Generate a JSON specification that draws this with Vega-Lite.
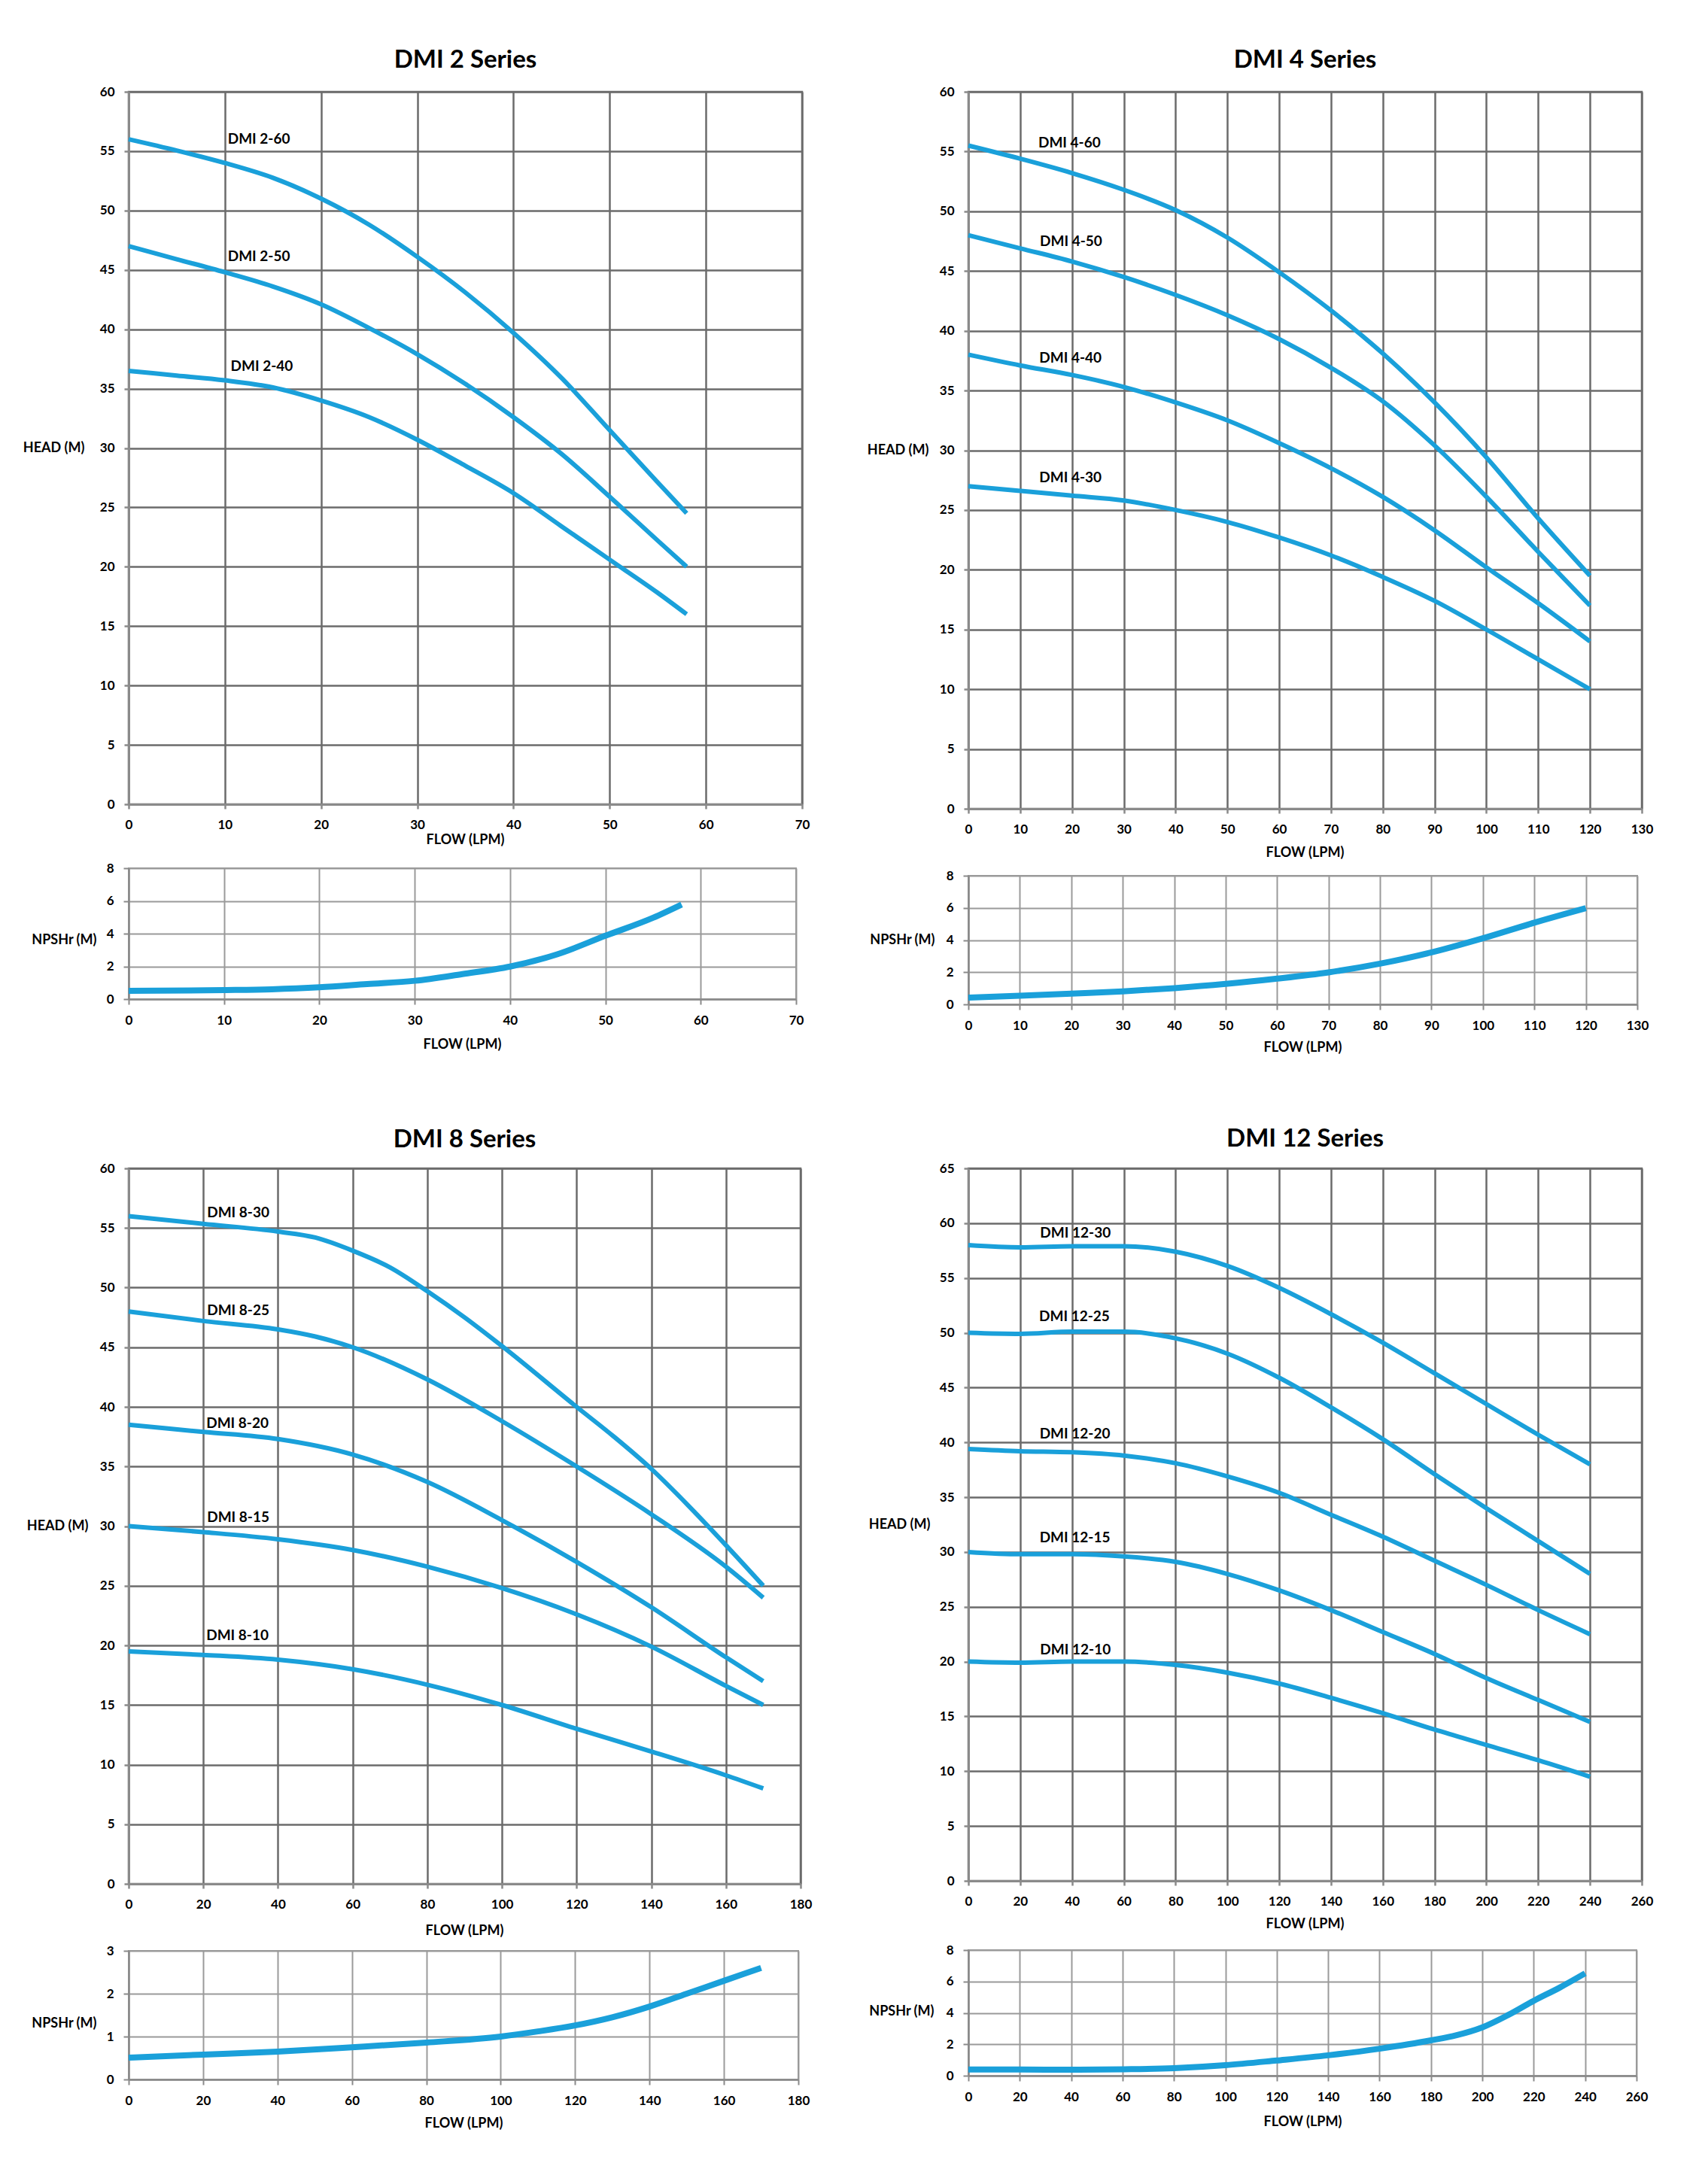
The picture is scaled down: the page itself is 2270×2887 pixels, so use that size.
{
"$schema": "https://vega.github.io/schema/vega-lite/v6.json",
"background": "white",
"padding": {"left": 29, "top": 62, "right": 0, "bottom": 0},
"autosize": {"type": "pad"},
"config": {
  "font": "Lato",
  "view": {"stroke": "#6b6b6b", "strokeWidth": 2.5},
  "axis": {"labelFont": "Lato", "labelFontWeight": "bold", "labelFontSize": 17, "labelColor": "#000",
    "titleFont": "Lato", "titleFontWeight": "bold", "titleFontSize": 18, "titleColor": "#000",
    "gridColor": "#6b6b6b", "gridWidth": 2.5, "tickColor": "#8a8a8a", "tickSize": 6, "tickWidth": 2.5,
    "domainColor": "#8a8a8a", "domainWidth": 3, "labelFlush": false, "labelOverlap": false},
  "axisX": {"labelPadding": 13},
  "axisY": {"labelPadding": 13},
  "title": {"font": "Lato", "fontSize": 33, "fontWeight": "bold", "color": "#000", "anchor": "middle", "baseline": "alphabetic", "frame": "group"},
  "line": {"color": "#1aa0da", "interpolate": "monotone"},
  "text": {"font": "Lato", "fontWeight": "bold", "fontSize": 19, "align": "left", "baseline": "middle", "color": "#000"}
},
"datasets": {
  "h2": [
    {"model":"DMI 2-60","flow":0,"head":56},{"model":"DMI 2-60","flow":5,"head":55.05},{"model":"DMI 2-60","flow":10,"head":54.0},{"model":"DMI 2-60","flow":15,"head":52.75},{"model":"DMI 2-60","flow":20,"head":51.0},{"model":"DMI 2-60","flow":25,"head":48.8},{"model":"DMI 2-60","flow":30,"head":46.1},{"model":"DMI 2-60","flow":35,"head":43.1},{"model":"DMI 2-60","flow":40,"head":39.7},{"model":"DMI 2-60","flow":45,"head":35.9},{"model":"DMI 2-60","flow":50,"head":31.5},{"model":"DMI 2-60","flow":55,"head":27.1},{"model":"DMI 2-60","flow":58,"head":24.5},
    {"model":"DMI 2-50","flow":0,"head":47},{"model":"DMI 2-50","flow":5,"head":45.9},{"model":"DMI 2-50","flow":10,"head":44.8},{"model":"DMI 2-50","flow":15,"head":43.6},{"model":"DMI 2-50","flow":20,"head":42.1},{"model":"DMI 2-50","flow":25,"head":40.1},{"model":"DMI 2-50","flow":30,"head":37.9},{"model":"DMI 2-50","flow":35,"head":35.4},{"model":"DMI 2-50","flow":40,"head":32.6},{"model":"DMI 2-50","flow":45,"head":29.5},{"model":"DMI 2-50","flow":50,"head":25.9},{"model":"DMI 2-50","flow":55,"head":22.2},{"model":"DMI 2-50","flow":58,"head":20.0},
    {"model":"DMI 2-40","flow":0,"head":36.5},{"model":"DMI 2-40","flow":5,"head":36.1},{"model":"DMI 2-40","flow":10,"head":35.7},{"model":"DMI 2-40","flow":15,"head":35.1},{"model":"DMI 2-40","flow":20,"head":34.0},{"model":"DMI 2-40","flow":25,"head":32.6},{"model":"DMI 2-40","flow":30,"head":30.7},{"model":"DMI 2-40","flow":35,"head":28.5},{"model":"DMI 2-40","flow":40,"head":26.2},{"model":"DMI 2-40","flow":45,"head":23.4},{"model":"DMI 2-40","flow":50,"head":20.6},{"model":"DMI 2-40","flow":55,"head":17.8},{"model":"DMI 2-40","flow":58,"head":16.0}
  ],
  "l2": [{"label":"DMI 2-60","flow":10.3,"head":56.0},{"label":"DMI 2-50","flow":10.3,"head":46.1},{"label":"DMI 2-40","flow":10.6,"head":36.9}],
  "n2": [{"flow":0,"npsh":0.5},{"flow":10,"npsh":0.55},{"flow":15,"npsh":0.6},{"flow":20,"npsh":0.72},{"flow":25,"npsh":0.92},{"flow":30,"npsh":1.12},{"flow":35,"npsh":1.53},{"flow":40,"npsh":1.99},{"flow":45,"npsh":2.75},{"flow":50,"npsh":3.87},{"flow":55,"npsh":4.97},{"flow":58,"npsh":5.78}],
  "h4": [
    {"model":"DMI 4-60","flow":0,"head":55.5},{"model":"DMI 4-60","flow":10,"head":54.4},{"model":"DMI 4-60","flow":20,"head":53.2},{"model":"DMI 4-60","flow":30,"head":51.8},{"model":"DMI 4-60","flow":40,"head":50.1},{"model":"DMI 4-60","flow":50,"head":47.8},{"model":"DMI 4-60","flow":60,"head":44.9},{"model":"DMI 4-60","flow":70,"head":41.7},{"model":"DMI 4-60","flow":80,"head":38.1},{"model":"DMI 4-60","flow":90,"head":34.0},{"model":"DMI 4-60","flow":100,"head":29.4},{"model":"DMI 4-60","flow":110,"head":24.3},{"model":"DMI 4-60","flow":120,"head":19.5},
    {"model":"DMI 4-50","flow":0,"head":48.0},{"model":"DMI 4-50","flow":10,"head":46.9},{"model":"DMI 4-50","flow":20,"head":45.8},{"model":"DMI 4-50","flow":30,"head":44.5},{"model":"DMI 4-50","flow":40,"head":43.0},{"model":"DMI 4-50","flow":50,"head":41.3},{"model":"DMI 4-50","flow":60,"head":39.3},{"model":"DMI 4-50","flow":70,"head":36.9},{"model":"DMI 4-50","flow":80,"head":34.1},{"model":"DMI 4-50","flow":90,"head":30.4},{"model":"DMI 4-50","flow":100,"head":26.1},{"model":"DMI 4-50","flow":110,"head":21.5},{"model":"DMI 4-50","flow":120,"head":17.0},
    {"model":"DMI 4-40","flow":0,"head":38.0},{"model":"DMI 4-40","flow":10,"head":37.1},{"model":"DMI 4-40","flow":20,"head":36.3},{"model":"DMI 4-40","flow":30,"head":35.3},{"model":"DMI 4-40","flow":40,"head":34.0},{"model":"DMI 4-40","flow":50,"head":32.5},{"model":"DMI 4-40","flow":60,"head":30.6},{"model":"DMI 4-40","flow":70,"head":28.5},{"model":"DMI 4-40","flow":80,"head":26.1},{"model":"DMI 4-40","flow":90,"head":23.3},{"model":"DMI 4-40","flow":100,"head":20.2},{"model":"DMI 4-40","flow":110,"head":17.2},{"model":"DMI 4-40","flow":120,"head":14.0},
    {"model":"DMI 4-30","flow":0,"head":27.0},{"model":"DMI 4-30","flow":10,"head":26.6},{"model":"DMI 4-30","flow":20,"head":26.2},{"model":"DMI 4-30","flow":30,"head":25.8},{"model":"DMI 4-30","flow":40,"head":25.0},{"model":"DMI 4-30","flow":50,"head":24.0},{"model":"DMI 4-30","flow":60,"head":22.7},{"model":"DMI 4-30","flow":70,"head":21.2},{"model":"DMI 4-30","flow":80,"head":19.4},{"model":"DMI 4-30","flow":90,"head":17.4},{"model":"DMI 4-30","flow":100,"head":15.0},{"model":"DMI 4-30","flow":110,"head":12.5},{"model":"DMI 4-30","flow":120,"head":10.0}
  ],
  "l4": [{"label":"DMI 4-60","flow":13.5,"head":55.7},{"label":"DMI 4-50","flow":13.8,"head":47.5},{"label":"DMI 4-40","flow":13.7,"head":37.7},{"label":"DMI 4-30","flow":13.7,"head":27.7}],
  "n4": [{"flow":0,"npsh":0.42},{"flow":10,"npsh":0.54},{"flow":20,"npsh":0.67},{"flow":30,"npsh":0.81},{"flow":40,"npsh":1.01},{"flow":50,"npsh":1.27},{"flow":60,"npsh":1.6},{"flow":70,"npsh":1.99},{"flow":80,"npsh":2.53},{"flow":90,"npsh":3.23},{"flow":100,"npsh":4.11},{"flow":110,"npsh":5.08},{"flow":120,"npsh":5.98}],
  "h8": [
    {"model":"DMI 8-30","flow":0,"head":56},{"model":"DMI 8-30","flow":20,"head":55.35},{"model":"DMI 8-30","flow":40,"head":54.7},{"model":"DMI 8-30","flow":50,"head":54.2},{"model":"DMI 8-30","flow":60,"head":53.1},{"model":"DMI 8-30","flow":70,"head":51.7},{"model":"DMI 8-30","flow":80,"head":49.7},{"model":"DMI 8-30","flow":90,"head":47.5},{"model":"DMI 8-30","flow":100,"head":45.1},{"model":"DMI 8-30","flow":120,"head":40.0},{"model":"DMI 8-30","flow":130,"head":37.5},{"model":"DMI 8-30","flow":140,"head":34.8},{"model":"DMI 8-30","flow":150,"head":31.7},{"model":"DMI 8-30","flow":160,"head":28.4},{"model":"DMI 8-30","flow":170,"head":25.0},
    {"model":"DMI 8-25","flow":0,"head":48},{"model":"DMI 8-25","flow":20,"head":47.2},{"model":"DMI 8-25","flow":40,"head":46.5},{"model":"DMI 8-25","flow":50,"head":45.9},{"model":"DMI 8-25","flow":60,"head":45.0},{"model":"DMI 8-25","flow":80,"head":42.3},{"model":"DMI 8-25","flow":100,"head":38.8},{"model":"DMI 8-25","flow":120,"head":35.0},{"model":"DMI 8-25","flow":140,"head":31.0},{"model":"DMI 8-25","flow":160,"head":26.6},{"model":"DMI 8-25","flow":170,"head":24.0},
    {"model":"DMI 8-20","flow":0,"head":38.5},{"model":"DMI 8-20","flow":20,"head":37.9},{"model":"DMI 8-20","flow":40,"head":37.3},{"model":"DMI 8-20","flow":60,"head":36.0},{"model":"DMI 8-20","flow":80,"head":33.7},{"model":"DMI 8-20","flow":100,"head":30.5},{"model":"DMI 8-20","flow":120,"head":27.0},{"model":"DMI 8-20","flow":140,"head":23.2},{"model":"DMI 8-20","flow":160,"head":19.0},{"model":"DMI 8-20","flow":170,"head":17.0},
    {"model":"DMI 8-15","flow":0,"head":30},{"model":"DMI 8-15","flow":20,"head":29.5},{"model":"DMI 8-15","flow":40,"head":28.9},{"model":"DMI 8-15","flow":60,"head":28.0},{"model":"DMI 8-15","flow":80,"head":26.6},{"model":"DMI 8-15","flow":100,"head":24.8},{"model":"DMI 8-15","flow":120,"head":22.6},{"model":"DMI 8-15","flow":140,"head":19.9},{"model":"DMI 8-15","flow":160,"head":16.6},{"model":"DMI 8-15","flow":170,"head":15.0},
    {"model":"DMI 8-10","flow":0,"head":19.5},{"model":"DMI 8-10","flow":20,"head":19.2},{"model":"DMI 8-10","flow":40,"head":18.8},{"model":"DMI 8-10","flow":60,"head":18.0},{"model":"DMI 8-10","flow":80,"head":16.7},{"model":"DMI 8-10","flow":100,"head":15.0},{"model":"DMI 8-10","flow":120,"head":13.0},{"model":"DMI 8-10","flow":140,"head":11.1},{"model":"DMI 8-10","flow":160,"head":9.1},{"model":"DMI 8-10","flow":170,"head":8.0}
  ],
  "l8": [{"label":"DMI 8-30","flow":21,"head":56.3},{"label":"DMI 8-25","flow":21,"head":48.1},{"label":"DMI 8-20","flow":20.8,"head":38.6},{"label":"DMI 8-15","flow":21,"head":30.7},{"label":"DMI 8-10","flow":20.8,"head":20.8}],
  "n8": [{"flow":0,"npsh":0.51},{"flow":20,"npsh":0.58},{"flow":40,"npsh":0.65},{"flow":60,"npsh":0.75},{"flow":80,"npsh":0.86},{"flow":100,"npsh":1.0},{"flow":110,"npsh":1.12},{"flow":120,"npsh":1.26},{"flow":130,"npsh":1.45},{"flow":140,"npsh":1.7},{"flow":150,"npsh":2.0},{"flow":160,"npsh":2.3},{"flow":170,"npsh":2.6}],
  "h12": [
    {"model":"DMI 12-30","flow":0,"head":58.0},{"model":"DMI 12-30","flow":20,"head":57.8},{"model":"DMI 12-30","flow":40,"head":57.9},{"model":"DMI 12-30","flow":60,"head":57.9},{"model":"DMI 12-30","flow":80,"head":57.4},{"model":"DMI 12-30","flow":100,"head":56.1},{"model":"DMI 12-30","flow":120,"head":54.1},{"model":"DMI 12-30","flow":140,"head":51.7},{"model":"DMI 12-30","flow":160,"head":49.1},{"model":"DMI 12-30","flow":180,"head":46.3},{"model":"DMI 12-30","flow":200,"head":43.5},{"model":"DMI 12-30","flow":220,"head":40.7},{"model":"DMI 12-30","flow":240,"head":38.0},
    {"model":"DMI 12-25","flow":0,"head":50.0},{"model":"DMI 12-25","flow":20,"head":49.9},{"model":"DMI 12-25","flow":40,"head":50.1},{"model":"DMI 12-25","flow":60,"head":50.1},{"model":"DMI 12-25","flow":80,"head":49.5},{"model":"DMI 12-25","flow":100,"head":48.1},{"model":"DMI 12-25","flow":120,"head":45.9},{"model":"DMI 12-25","flow":140,"head":43.2},{"model":"DMI 12-25","flow":160,"head":40.3},{"model":"DMI 12-25","flow":180,"head":37.1},{"model":"DMI 12-25","flow":200,"head":34.0},{"model":"DMI 12-25","flow":220,"head":31.0},{"model":"DMI 12-25","flow":240,"head":28.0},
    {"model":"DMI 12-20","flow":0,"head":39.4},{"model":"DMI 12-20","flow":20,"head":39.2},{"model":"DMI 12-20","flow":40,"head":39.1},{"model":"DMI 12-20","flow":60,"head":38.8},{"model":"DMI 12-20","flow":80,"head":38.1},{"model":"DMI 12-20","flow":100,"head":36.9},{"model":"DMI 12-20","flow":120,"head":35.4},{"model":"DMI 12-20","flow":140,"head":33.4},{"model":"DMI 12-20","flow":160,"head":31.4},{"model":"DMI 12-20","flow":180,"head":29.2},{"model":"DMI 12-20","flow":200,"head":27.0},{"model":"DMI 12-20","flow":220,"head":24.7},{"model":"DMI 12-20","flow":240,"head":22.5},
    {"model":"DMI 12-15","flow":0,"head":30.0},{"model":"DMI 12-15","flow":20,"head":29.8},{"model":"DMI 12-15","flow":40,"head":29.8},{"model":"DMI 12-15","flow":60,"head":29.6},{"model":"DMI 12-15","flow":80,"head":29.1},{"model":"DMI 12-15","flow":100,"head":28.0},{"model":"DMI 12-15","flow":120,"head":26.5},{"model":"DMI 12-15","flow":140,"head":24.7},{"model":"DMI 12-15","flow":160,"head":22.7},{"model":"DMI 12-15","flow":180,"head":20.7},{"model":"DMI 12-15","flow":200,"head":18.5},{"model":"DMI 12-15","flow":220,"head":16.5},{"model":"DMI 12-15","flow":240,"head":14.5},
    {"model":"DMI 12-10","flow":0,"head":20.0},{"model":"DMI 12-10","flow":20,"head":19.9},{"model":"DMI 12-10","flow":40,"head":20.0},{"model":"DMI 12-10","flow":60,"head":20.0},{"model":"DMI 12-10","flow":80,"head":19.7},{"model":"DMI 12-10","flow":100,"head":19.0},{"model":"DMI 12-10","flow":120,"head":18.0},{"model":"DMI 12-10","flow":140,"head":16.7},{"model":"DMI 12-10","flow":160,"head":15.3},{"model":"DMI 12-10","flow":180,"head":13.8},{"model":"DMI 12-10","flow":200,"head":12.4},{"model":"DMI 12-10","flow":220,"head":11.0},{"model":"DMI 12-10","flow":240,"head":9.5}
  ],
  "l12": [{"label":"DMI 12-30","flow":27.7,"head":59.1},{"label":"DMI 12-25","flow":27.3,"head":51.5},{"label":"DMI 12-20","flow":27.5,"head":40.8},{"label":"DMI 12-15","flow":27.5,"head":31.3},{"label":"DMI 12-10","flow":27.7,"head":21.1}],
  "n12": [{"flow":0,"npsh":0.39},{"flow":20,"npsh":0.39},{"flow":40,"npsh":0.38},{"flow":60,"npsh":0.41},{"flow":80,"npsh":0.48},{"flow":100,"npsh":0.67},{"flow":120,"npsh":0.97},{"flow":140,"npsh":1.3},{"flow":160,"npsh":1.72},{"flow":180,"npsh":2.25},{"flow":190,"npsh":2.58},{"flow":200,"npsh":3.08},{"flow":210,"npsh":3.86},{"flow":220,"npsh":4.77},{"flow":230,"npsh":5.6},{"flow":240,"npsh":6.52}]
},
"spacing": 94,
"vconcat": [
  {"spacing": 73, "hconcat": [
    {"spacing": 85, "bounds": "flush", "vconcat": [
      {"width": 895, "height": 947, "title": {"text": "DMI 2 Series", "offset": 16},
       "layer": [
        {"data": {"name": "h2"}, "mark": {"type": "line", "strokeWidth": 6},
         "encoding": {
          "x": {"field": "flow", "type": "quantitative", "scale": {"domain": [0, 70], "nice": false},
                "axis": {"values": [0,10,20,30,40,50,60,70], "title": "FLOW (LPM)", "titleX": 447, "titleY": 47, "titleBaseline": "middle"}},
          "y": {"field": "head", "type": "quantitative", "scale": {"domain": [0, 60], "nice": false},
                "axis": {"values": [0,5,10,15,20,25,30,35,40,45,50,55,60], "title": "HEAD (M)", "titleAngle": 0, "titleAlign": "right", "titleBaseline": "middle", "titleX": -59, "titleY": 473}},
          "detail": {"field": "model"}}},
        {"data": {"name": "l2"}, "mark": {"type": "text"},
         "encoding": {"x": {"field": "flow", "type": "quantitative"}, "y": {"field": "head", "type": "quantitative"}, "text": {"field": "label"}}}
       ]},
      {"width": 887, "height": 174, "view": {"stroke": "#9a9a9a", "strokeWidth": 2},
       "data": {"name": "n2"}, "mark": {"type": "line", "strokeWidth": 8},
       "encoding": {
        "x": {"field": "flow", "type": "quantitative", "scale": {"domain": [0, 70], "nice": false},
              "axis": {"values": [0,10,20,30,40,50,60,70], "title": "FLOW (LPM)", "titleX": 443, "titleY": 60, "titleBaseline": "middle", "gridColor": "#9a9a9a", "gridWidth": 2, "tickSize": 7, "tickWidth": 2, "domainWidth": 2.5}},
        "y": {"field": "npsh", "type": "quantitative", "scale": {"domain": [0, 8], "nice": false},
              "axis": {"values": [0,2,4,6,8], "title": "NPSHr (M)", "titleAngle": 0, "titleAlign": "right", "titleBaseline": "middle", "titleX": -43, "titleY": 95, "gridColor": "#9a9a9a", "gridWidth": 2, "tickSize": 7, "tickWidth": 2, "domainWidth": 2.5}}}}
    ]},
    {"spacing": 89, "bounds": "flush", "vconcat": [
      {"width": 895, "height": 953, "title": {"text": "DMI 4 Series", "offset": 16},
       "layer": [
        {"data": {"name": "h4"}, "mark": {"type": "line", "strokeWidth": 6},
         "encoding": {
          "x": {"field": "flow", "type": "quantitative", "scale": {"domain": [0, 130], "nice": false},
                "axis": {"values": [0,10,20,30,40,50,60,70,80,90,100,110,120,130], "title": "FLOW (LPM)", "titleX": 447, "titleY": 58, "titleBaseline": "middle"}},
          "y": {"field": "head", "type": "quantitative", "scale": {"domain": [0, 60], "nice": false},
                "axis": {"values": [0,5,10,15,20,25,30,35,40,45,50,55,60], "title": "HEAD (M)", "titleAngle": 0, "titleAlign": "right", "titleBaseline": "middle", "titleX": -53, "titleY": 476}},
          "detail": {"field": "model"}}},
        {"data": {"name": "l4"}, "mark": {"type": "text"},
         "encoding": {"x": {"field": "flow", "type": "quantitative"}, "y": {"field": "head", "type": "quantitative"}, "text": {"field": "label"}}}
       ]},
      {"width": 889, "height": 171, "view": {"stroke": "#9a9a9a", "strokeWidth": 2},
       "data": {"name": "n4"}, "mark": {"type": "line", "strokeWidth": 8},
       "encoding": {
        "x": {"field": "flow", "type": "quantitative", "scale": {"domain": [0, 130], "nice": false},
              "axis": {"values": [0,10,20,30,40,50,60,70,80,90,100,110,120,130], "title": "FLOW (LPM)", "titleX": 444, "titleY": 57, "titleBaseline": "middle", "gridColor": "#9a9a9a", "gridWidth": 2, "tickSize": 7, "tickWidth": 2, "domainWidth": 2.5}},
        "y": {"field": "npsh", "type": "quantitative", "scale": {"domain": [0, 8], "nice": false},
              "axis": {"values": [0,2,4,6,8], "title": "NPSHr (M)", "titleAngle": 0, "titleAlign": "right", "titleBaseline": "middle", "titleX": -45, "titleY": 85, "gridColor": "#9a9a9a", "gridWidth": 2, "tickSize": 7, "tickWidth": 2, "domainWidth": 2.5}}}}
    ]}
  ]},
  {"spacing": 72, "hconcat": [
    {"spacing": 89, "bounds": "flush", "vconcat": [
      {"width": 893, "height": 951, "title": {"text": "DMI 8 Series", "offset": 12},
       "layer": [
        {"data": {"name": "h8"}, "mark": {"type": "line", "strokeWidth": 6},
         "encoding": {
          "x": {"field": "flow", "type": "quantitative", "scale": {"domain": [0, 180], "nice": false},
                "axis": {"values": [0,20,40,60,80,100,120,140,160,180], "title": "FLOW (LPM)", "titleX": 446, "titleY": 62, "titleBaseline": "middle"}},
          "y": {"field": "head", "type": "quantitative", "scale": {"domain": [0, 60], "nice": false},
                "axis": {"values": [0,5,10,15,20,25,30,35,40,45,50,55,60], "title": "HEAD (M)", "titleAngle": 0, "titleAlign": "right", "titleBaseline": "middle", "titleX": -54, "titleY": 475}},
          "detail": {"field": "model"}}},
        {"data": {"name": "l8"}, "mark": {"type": "text"},
         "encoding": {"x": {"field": "flow", "type": "quantitative"}, "y": {"field": "head", "type": "quantitative"}, "text": {"field": "label"}}}
       ]},
      {"width": 890, "height": 171, "view": {"stroke": "#9a9a9a", "strokeWidth": 2},
       "data": {"name": "n8"}, "mark": {"type": "line", "strokeWidth": 8},
       "encoding": {
        "x": {"field": "flow", "type": "quantitative", "scale": {"domain": [0, 180], "nice": false},
              "axis": {"values": [0,20,40,60,80,100,120,140,160,180], "title": "FLOW (LPM)", "titleX": 445, "titleY": 58, "titleBaseline": "middle", "gridColor": "#9a9a9a", "gridWidth": 2, "tickSize": 7, "tickWidth": 2, "domainWidth": 2.5}},
        "y": {"field": "npsh", "type": "quantitative", "scale": {"domain": [0, 3], "nice": false},
              "axis": {"values": [0,1,2,3], "title": "NPSHr (M)", "titleAngle": 0, "titleAlign": "right", "titleBaseline": "middle", "titleX": -43, "titleY": 96, "gridColor": "#9a9a9a", "gridWidth": 2, "tickSize": 7, "tickWidth": 2, "domainWidth": 2.5}}}}
    ]},
    {"spacing": 92, "bounds": "flush", "vconcat": [
      {"width": 895, "height": 947, "title": {"text": "DMI 12 Series", "offset": 13},
       "layer": [
        {"data": {"name": "h12"}, "mark": {"type": "line", "strokeWidth": 6},
         "encoding": {
          "x": {"field": "flow", "type": "quantitative", "scale": {"domain": [0, 260], "nice": false},
                "axis": {"values": [0,20,40,60,80,100,120,140,160,180,200,220,240,260], "title": "FLOW (LPM)", "titleX": 447, "titleY": 57, "titleBaseline": "middle"}},
          "y": {"field": "head", "type": "quantitative", "scale": {"domain": [0, 65], "nice": false},
                "axis": {"values": [0,5,10,15,20,25,30,35,40,45,50,55,60,65], "title": "HEAD (M)", "titleAngle": 0, "titleAlign": "right", "titleBaseline": "middle", "titleX": -51, "titleY": 473}},
          "detail": {"field": "model"}}},
        {"data": {"name": "l12"}, "mark": {"type": "text"},
         "encoding": {"x": {"field": "flow", "type": "quantitative"}, "y": {"field": "head", "type": "quantitative"}, "text": {"field": "label"}}}
       ]},
      {"width": 888, "height": 167, "view": {"stroke": "#9a9a9a", "strokeWidth": 2},
       "data": {"name": "n12"}, "mark": {"type": "line", "strokeWidth": 8},
       "encoding": {
        "x": {"field": "flow", "type": "quantitative", "scale": {"domain": [0, 260], "nice": false},
              "axis": {"values": [0,20,40,60,80,100,120,140,160,180,200,220,240,260], "title": "FLOW (LPM)", "titleX": 444, "titleY": 61, "titleBaseline": "middle", "gridColor": "#9a9a9a", "gridWidth": 2, "tickSize": 7, "tickWidth": 2, "domainWidth": 2.5}},
        "y": {"field": "npsh", "type": "quantitative", "scale": {"domain": [0, 8], "nice": false},
              "axis": {"values": [0,2,4,6,8], "title": "NPSHr (M)", "titleAngle": 0, "titleAlign": "right", "titleBaseline": "middle", "titleX": -46, "titleY": 81, "gridColor": "#9a9a9a", "gridWidth": 2, "tickSize": 7, "tickWidth": 2, "domainWidth": 2.5}}}}
    ]}
  ]}
]
}
